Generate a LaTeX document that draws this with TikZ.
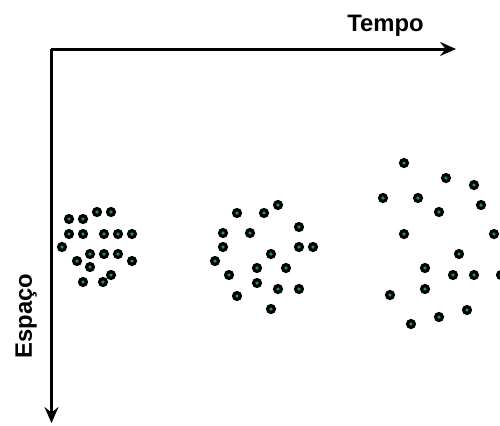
\documentclass[tikz,border=0pt]{standalone}
\usepackage{fontspec}
\setmainfont{Liberation Sans}
\definecolor{dotgreen}{RGB}{30,150,95}
\usetikzlibrary{arrows.meta}
\tikzset{
	axis/.style={line width=1.5pt, -{Stealth[length=8pt, width=7pt, inset=2.8pt]}},
	particle/.style={circle, draw=black, fill=dotgreen, line width=1.6pt, minimum size=3.4pt, inner sep=0pt},
	axislabel/.style={font=\fontsize{11.9}{14}\selectfont\bfseries, inner sep=0pt},
}

\begin{document}
\begin{tikzpicture}[x=0.5pt, y=-0.5pt]
	\useasboundingbox (0,0) rectangle (500,425);

	% axes
	\coordinate (origin) at (51.5,49);
	\coordinate (tend) at (456,49);
	\coordinate (send) at (51.5,423);
	\draw[axis] (origin.center) -- (tend);
	\draw[axis] (origin.center) -- (send);
	\node[axislabel, anchor=base] (tempo) at (385.5,31.5) {Tempo};
	\node[axislabel, rotate=90, anchor=base] (espaco) at (32,316) {Espaço};

	% compact cluster
	\foreach \px/\py [count=\i] in {97/212, 111/212, 69/219, 83/219, 69/234, 83/234, 104/234, 118/234, 132/234,
		62/247, 77/261, 90/254, 104/254, 118/254, 132/261, 90/267, 111/275, 83/282, 103/282}
		\node[particle] (a\i) at (\px,\py) {};

	% medium cluster
	\foreach \px/\py [count=\i] in {237/213, 264/213, 278/205, 299/227, 223/233, 250/233, 223/247, 299/247, 313/247,
		271/254, 215/261, 257/268, 286/268, 229/275, 257/283, 278/289, 299/289, 237/296, 271/309}
		\node[particle] (b\i) at (\px,\py) {};

	% spread cluster
	\foreach \px/\py [count=\i] in {404/163, 446/178, 474/185, 383/198, 418/198, 439/212, 481/205, 404/234, 494/234,
		459/254, 425/268, 453/275, 474/275, 501/275, 425/289, 390/295, 467/310, 439/317, 411/324}
		\node[particle] (c\i) at (\px,\py) {};
\end{tikzpicture}
\end{document}
